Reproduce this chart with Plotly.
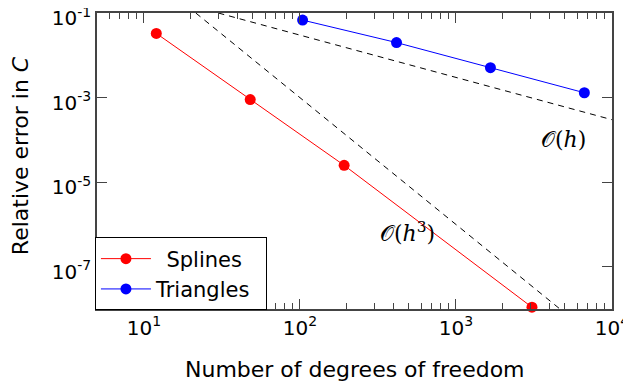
import math
import plotly.graph_objects as go

# ---- data ----
splines_dof = [12, 48, 192, 3072]
splines_err = [3.3e-2, 9.0e-4, 2.5e-5, 1.1e-8]

triangles_dof = [104, 416, 1664, 6656]
triangles_err = [6.8e-2, 2.0e-2, 5.1e-3, 1.3e-3]

# reference slopes (endpoints)
oh_x = [30, 10000]
oh_y = [0.1, 3e-4]
oh3_x = [21.5, 4642]
oh3_y = [0.1, 1e-8]

ytick_vals = [1e-1, 1e-3, 1e-5, 1e-7]
ytick_text = ["10<sup>-1</sup>", "10<sup>-3</sup>", "10<sup>-5</sup>", "10<sup>-7</sup>"]
xtick_vals = [10, 100, 1000, 10000]
xtick_text = ["10<sup>1</sup>", "10<sup>2</sup>", "10<sup>3</sup>", "10<sup>4</sup>"]

FONT = "DejaVu Sans"
AX = "#444444"

fig = go.Figure()
fig.add_trace(go.Scatter(x=oh_x, y=oh_y, mode="lines", showlegend=False,
                         line=dict(color="black", width=1, dash="6px,5px")))
fig.add_trace(go.Scatter(x=oh3_x, y=oh3_y, mode="lines", showlegend=False,
                         line=dict(color="black", width=1, dash="6px,5px")))
fig.add_trace(go.Scatter(x=splines_dof, y=splines_err, mode="lines+markers",
                         name="\u2002Splines",
                         line=dict(color="#ff0000", width=1),
                         marker=dict(color="#ff0000", size=11), cliponaxis=False))
fig.add_trace(go.Scatter(x=triangles_dof, y=triangles_err, mode="lines+markers",
                         name="Triangles\u2002",
                         line=dict(color="#0000ff", width=1),
                         marker=dict(color="#0000ff", size=11), cliponaxis=False))

fig.update_xaxes(type="log", range=[math.log10(5), 4.0005], tickvals=xtick_vals, ticktext=xtick_text,
                 ticks="inside", ticklen=10, tickcolor=AX, tickwidth=1,
                 minor=dict(ticks="inside", ticklen=6, tickcolor=AX, dtick="D1"),
                 showline=True, linecolor=AX, linewidth=1.5, mirror="ticks",
                 showgrid=False, zeroline=False, ticklabeloverflow="allow", automargin=False,
                 tickfont=dict(family=FONT, size=20, color="black"))
fig.update_yaxes(type="log", range=[-8.0005, -0.9995], tickvals=ytick_vals, ticktext=ytick_text,
                 ticks="inside", ticklen=10, tickcolor=AX, tickwidth=1,
                 showline=True, linecolor=AX, linewidth=1.5, mirror="ticks",
                 showgrid=False, zeroline=False, ticklabeloverflow="allow", automargin=False,
                 ticklabelshift=5,
                 tickfont=dict(family=FONT, size=20, color="black"))

fig.add_annotation(x=math.log10(4900), y=-3.99, xref="x", yref="y", showarrow=False,
                   text="𝒪(<i>h</i>)", font=dict(family="DejaVu Serif", size=22, color="black"))
fig.add_annotation(x=2.69, y=-6.17, xref="x", yref="y", showarrow=False,
                   text="𝒪(<i>h</i><sup>3</sup>)", font=dict(family="DejaVu Serif", size=22, color="black"))

fig.add_annotation(x=0.5, y=-0.206, xref="paper", yref="paper", showarrow=False,
                   xanchor="center", yanchor="middle",
                   text="Number of degrees of freedom",
                   font=dict(family=FONT, size=22, color="black"))
fig.add_annotation(x=-0.148, y=0.519, xref="paper", yref="paper", showarrow=False, textangle=-90,
                   xanchor="center", yanchor="middle",
                   text="Relative error in <i>C</i>",
                   font=dict(family=FONT, size=22, color="black"))

# page body has an 8px default margin, so the figure is sized/offset to compensate
fig.update_layout(
    width=623, height=376,
    margin=dict(l=89, r=19, t=5, b=75, autoexpand=False),
    plot_bgcolor="white", paper_bgcolor="white",
    legend=dict(x=-0.004, y=-0.005, xanchor="left", yanchor="bottom",
                bordercolor="black", borderwidth=1, bgcolor="white",
                font=dict(family=FONT, size=21, color="black"),
                tracegroupgap=0, itemwidth=50),
    showlegend=True,
)

fig.write_html("out.html")
